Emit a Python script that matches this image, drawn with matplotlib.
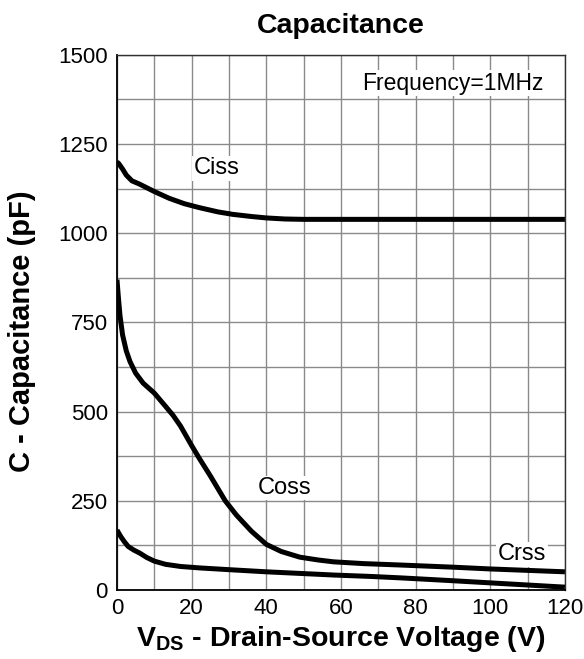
import matplotlib
matplotlib.use("Agg")
import matplotlib.pyplot as plt
import numpy as np

plt.rcParams['font.family'] = ['Liberation Sans', 'DejaVu Sans']
plt.rcParams['mathtext.fontset'] = 'custom'
plt.rcParams['mathtext.rm'] = 'Liberation Sans'
plt.rcParams['mathtext.bf'] = 'Liberation Sans:bold'

# dati (V, pF)
ciss_v = [0, 0.5, 1.5, 2.5, 4, 6, 10, 14, 18, 22, 27, 31, 36, 40, 45, 50, 60, 80, 100, 120]
ciss_c = [1200, 1195, 1180, 1163, 1147, 1138, 1117, 1098, 1083, 1072, 1060, 1053, 1047, 1043, 1040, 1039, 1039, 1039, 1039, 1039]

coss_v = [0, 0.3, 0.8, 1.5, 2.5, 3.5, 5, 7, 10, 13, 15, 17, 20, 22, 25, 29, 32, 36, 40, 44, 49, 54, 58, 66, 76, 90, 100, 110, 120]
coss_c = [870, 830, 770, 715, 670, 640, 608, 580, 552, 515, 490, 460, 405, 370, 320, 250, 210, 165, 128, 108, 92, 84, 79, 74, 70, 64, 59, 55, 51]

crss_v = [0, 1, 2, 3, 4.5, 6, 8, 10, 13, 17, 22, 30, 40, 50, 58, 68, 76, 90, 100, 110, 120]
crss_c = [168, 150, 135, 122, 112, 104, 91, 81, 72, 66, 62, 57, 51, 46, 42, 38, 34, 26, 20, 14, 8]

fig = plt.figure(figsize=(5.84, 6.59), dpi=100)
ax = fig.add_axes([0.2003, 0.1047, 0.767, 0.812])

for v, c in [(ciss_v, ciss_c), (coss_v, coss_c), (crss_v, crss_c)]:
    ax.plot(v, c, color='black', linewidth=3.6, solid_capstyle='butt',
            solid_joinstyle='round', zorder=3)

ax.set_xlim(0, 120)
ax.set_ylim(0, 1500)
ax.set_xticks(np.arange(0, 121, 20))
ax.set_xticks(np.arange(0, 121, 10), minor=True)
ax.set_yticks(np.arange(0, 1501, 250))
ax.set_yticks(np.arange(0, 1501, 125), minor=True)
ax.grid(True, which='both', color='#8a8a8a', linewidth=1.0)
ax.tick_params(which='both', length=0, labelsize=16)
ax.tick_params(axis='y', pad=6.5)
ax.tick_params(axis='x', pad=6)
for s in ax.spines.values():
    s.set_color('#303030')
    s.set_linewidth(1.0)
ax.spines['left'].set_color('black')
ax.spines['bottom'].set_color('black')
ax.spines['left'].set_linewidth(1.3)
ax.spines['bottom'].set_linewidth(1.3)

box = dict(facecolor='white', edgecolor='none', pad=1)
ax.text(26.7, 1182, 'Ciss', fontsize=17, ha='center', va='center', bbox=box, zorder=4)
ax.text(45, 286, 'Coss', fontsize=17, ha='center', va='center', bbox=box, zorder=4)
ax.text(108.5, 100, 'Crss', fontsize=17, ha='center', va='center', bbox=box, zorder=2)
ax.text(90, 1421, 'Frequency=1MHz', fontsize=16.5, ha='center', va='center', bbox=box, zorder=4)

ax.set_title('Capacitance', fontsize=20.5, fontweight='bold', pad=16)
ax.set_xlabel(r'$\mathbf{V_{DS}}$ - Drain-Source Voltage (V)', fontsize=20.5,
              fontweight='bold', labelpad=3)
ax.set_ylabel('C - Capacitance (pF)', fontsize=21, fontweight='bold')
ax.yaxis.set_label_coords(-0.181, 0.483)

fig.savefig('out.png', dpi=100)
